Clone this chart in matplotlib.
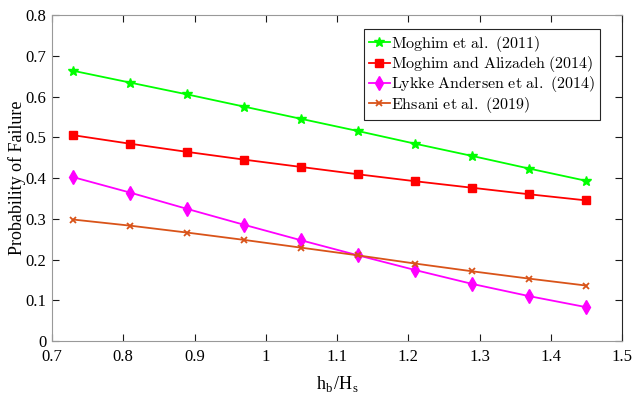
import matplotlib
matplotlib.use("Agg")
import matplotlib.pyplot as plt

plt.rcParams['font.family'] = ['Liberation Serif', 'DejaVu Serif']
plt.rcParams['mathtext.fontset'] = 'cm'

x = [0.73, 0.81, 0.89, 0.97, 1.05, 1.13, 1.21, 1.29, 1.37, 1.45]
moghim2011 = [0.663, 0.634, 0.605, 0.575, 0.545, 0.515, 0.484, 0.454, 0.423, 0.393]
moghim_alizadeh = [0.505, 0.484, 0.464, 0.445, 0.427, 0.409, 0.392, 0.376, 0.360, 0.345]
lykke = [0.402, 0.364, 0.324, 0.285, 0.247, 0.210, 0.174, 0.140, 0.110, 0.083]
ehsani = [0.298, 0.283, 0.266, 0.248, 0.229, 0.210, 0.190, 0.171, 0.153, 0.136]

labels = [r'$\mathrm{Moghim\ et\ al.\ (2011)}$',
          r'$\mathrm{Moghim\ and\ Alizadeh\ (2014)}$',
          r'$\mathrm{Lykke\ Andersen\ et\ al.\ (2014)}$',
          r'$\mathrm{Ehsani\ et\ al.\ (2019)}$']

xticks = [0.7, 0.8, 0.9, 1.0, 1.1, 1.2, 1.3, 1.4, 1.5]
xticklabels = ['0.7', '0.8', '0.9', '1', '1.1', '1.2', '1.3', '1.4', '1.5']
yticks = [0, 0.1, 0.2, 0.3, 0.4, 0.5, 0.6, 0.7, 0.8]
yticklabels = ['0', '0.1', '0.2', '0.3', '0.4', '0.5', '0.6', '0.7', '0.8']

fig = plt.figure(figsize=(6.32, 4.01), dpi=100)
ax = fig.add_axes([0.0823, 0.1496, 0.9019, 0.813])

ax.plot(x, moghim2011, color=(0, 1, 0), marker='*', markersize=7, lw=1.3, label=labels[0])
ax.plot(x, moghim_alizadeh, color=(1, 0, 0), marker='s', markersize=5.5, lw=1.3, label=labels[1])
ax.plot(x, lykke, color=(1, 0, 1), marker='d', markersize=7, lw=1.3, label=labels[2])
ax.plot(x, ehsani, color=(0.85, 0.325, 0.098), marker='x', markersize=4.5, mew=1.3, lw=1.3, label=labels[3])

ax.set_xlim(0.7, 1.5)
ax.set_ylim(0, 0.8)
ax.set_xticks(xticks)
ax.set_xticklabels(xticklabels)
ax.set_yticks(yticks)
ax.set_yticklabels(yticklabels)
ax.tick_params(direction='in', length=5, width=0.8, labelsize=12, top=True, right=True, color='0.1')
ax.tick_params(axis='x', labeltop=False, pad=6)
ax.tick_params(axis='y', pad=4)
for name, s in ax.spines.items():
    s.set_color('0.6' if name != 'right' else '0.15')
    s.set_linewidth(0.8)

ax.set_xlabel(r'h$_\mathregular{b}$/H$_\mathregular{s}$', fontsize=13, labelpad=7)
ax.set_ylabel('Probability of Failure', fontsize=13, labelpad=0)

leg = ax.legend(loc='upper right', bbox_to_anchor=(0.961, 0.957), fontsize=11.5,
                frameon=True, fancybox=False, framealpha=1, edgecolor='0.15',
                handlelength=1.35, handletextpad=0.05, borderpad=0.3, labelspacing=0.02,
                borderaxespad=0)
leg.get_frame().set_linewidth(0.8)

fig.savefig('out.png', dpi=100)
